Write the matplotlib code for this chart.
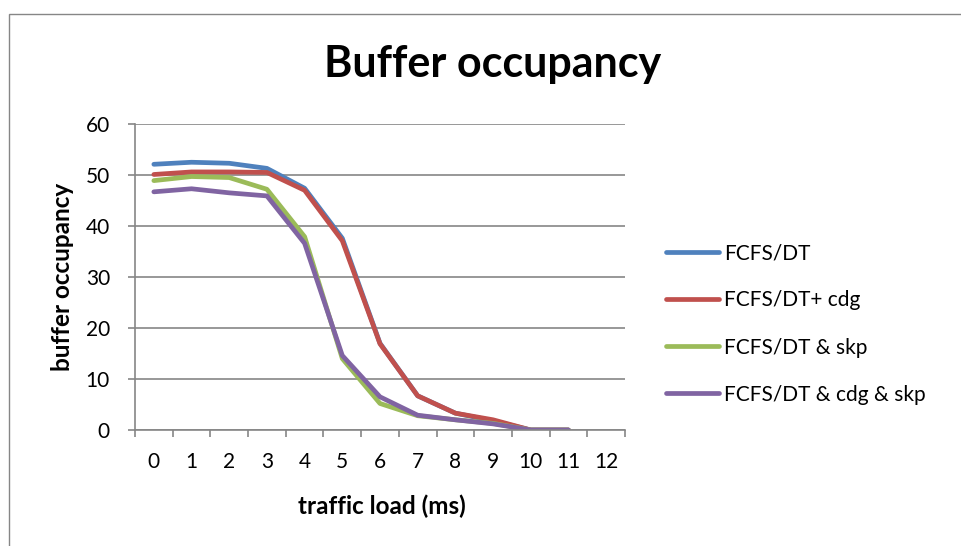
import matplotlib.pyplot as plt
from matplotlib.patches import Rectangle

plt.rcParams['font.family'] = ['Lato', 'DejaVu Sans']

# traffic load categories on the axis, and points actually measured
categories = list(range(13))
loads = list(range(12))

fcfs_dt = [52.1, 52.5, 52.3, 51.3, 47.4, 37.6, 17.0, 6.7, 3.3, 1.8, 0.0, 0.0]
fcfs_dt_cdg = [50.1, 50.6, 50.6, 50.5, 47.0, 37.1, 16.9, 6.7, 3.3, 2.0, 0.0, 0.0]
fcfs_dt_skp = [48.9, 49.7, 49.5, 47.2, 37.9, 14.0, 5.2, 2.8, 2.0, 1.3, 0.0, 0.0]
fcfs_dt_cdg_skp = [46.7, 47.3, 46.5, 45.9, 36.6, 14.6, 6.5, 2.9, 2.0, 1.2, 0.0, 0.0]

series = [
    ("FCFS/DT", fcfs_dt, "#4F81BD"),
    ("FCFS/DT+ cdg", fcfs_dt_cdg, "#C0504D"),
    ("FCFS/DT & skp", fcfs_dt_skp, "#9BBB59"),
    ("FCFS/DT & cdg & skp", fcfs_dt_cdg_skp, "#8064A2"),
]

W, H = 961, 546
fig = plt.figure(figsize=(W / 100, H / 100), dpi=100)
ax = fig.add_axes([135 / W, 1 - 430 / H, 490 / W, 306 / H])

# chart area border (right and bottom run off the image)
fig.patches.append(Rectangle((9 / W, -0.1), 1.1, 1 - 14 / H + 0.1,
                             transform=fig.transFigure, fill=False,
                             edgecolor="#868686", linewidth=1))

for name, vals, color in series:
    ax.plot(loads, vals, color=color, lw=3.4, solid_capstyle="round",
            solid_joinstyle="round", label=name)

grid_c = "#868686"
ax.set_xlim(-0.5, 12.5)
ax.set_ylim(0, 60)
ax.set_yticks(range(0, 61, 10))
ax.yaxis.grid(True, color=grid_c, lw=1.2)
ax.set_axisbelow(True)

# category boundaries get the tick marks, centres get the labels
ax.set_xticks([c - 0.5 for c in categories] + [12.5])
ax.set_xticklabels([])
ax.set_xticks(categories, minor=True)
ax.set_xticklabels([str(c) for c in categories], minor=True)
ax.tick_params(axis="x", which="major", length=5, color=grid_c, width=1.2)
ax.tick_params(axis="x", which="minor", length=0, pad=16, labelsize=15)
ax.tick_params(axis="y", length=5, color=grid_c, width=1.2, labelsize=15, pad=13)

for s in ["top", "right"]:
    ax.spines[s].set_visible(False)
for s in ["left", "bottom"]:
    ax.spines[s].set_color(grid_c)
    ax.spines[s].set_linewidth(1.2)

fig.text(382 / W, 1 - 506 / H, "traffic load (ms)", ha="center", va="center",
         fontsize=17.5, fontweight="bold")
fig.text(63 / W, 1 - 277 / H, "buffer occupancy", ha="center", va="center",
         rotation=90, fontsize=17.5, fontweight="bold")
fig.text(493 / W, 1 - 77 / H, "Buffer occupancy", ha="center", va="baseline",
         fontsize=31, fontweight="bold")

fig.legend(loc="center left", bbox_to_anchor=(666 / W, 1 - 324 / H),
           frameon=False, fontsize=15, handlelength=2.55, handletextpad=0.24,
           labelspacing=1.3, borderpad=0, borderaxespad=0)

fig.savefig("out.png", dpi=100)
